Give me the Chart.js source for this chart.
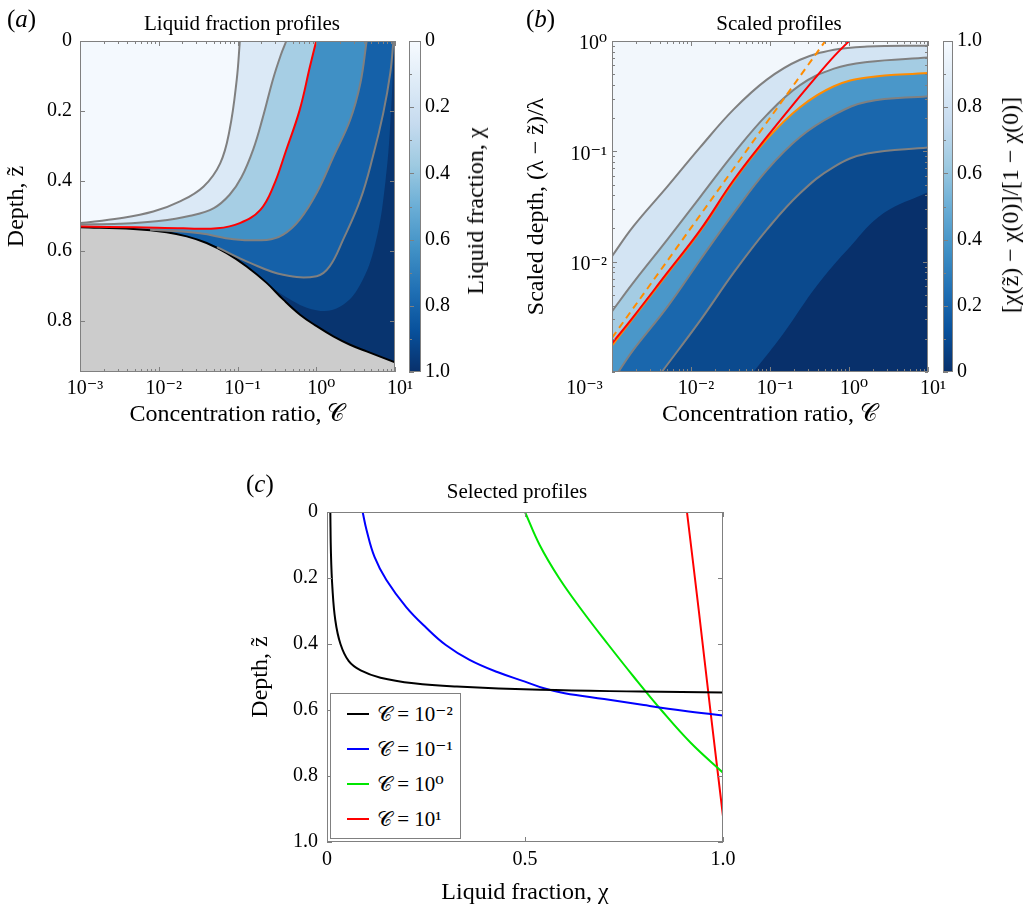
<!DOCTYPE html>
<html lang="en">
<head>
<meta charset="UTF-8">
<title>Liquid fraction profiles</title>
<script src="https://cdn.jsdelivr.net/npm/chart.js"></script>
<style>
  body { margin: 0; background: #fff; font-family: 'Liberation Serif', 'DejaVu Serif', serif; }
  #fig { position: relative; width: 1030px; height: 910px; overflow: hidden; }
  canvas { position: absolute; }
  .txt { position: absolute; white-space: nowrap; color: #000; line-height: 1; }
  .panel { font-size: 25px; }
  .ttl { font-size: 21px; transform: translate(-50%, -50%); }
  .cbt { font-size: 24px; transform: translate(-50%, -50%) rotate(-90deg); }
  #legend { position: absolute; left: 330px; top: 693px; width: 129px; height: 144px; border: 1px solid #808080; background: #fff; }
  .row { position: absolute; left: 0; height: 24px; font-size: 21px; line-height: 24px; white-space: nowrap; }
  .row span.ln { position: absolute; left: 16px; top: 11px; width: 22px; height: 2px; }
  .row span.tx { position: absolute; left: 46px; top: 0; }
</style>
</head>
<body>
<div id="fig">
  <canvas id="chartA" width="420" height="440" style="left:0;top:0"></canvas>
  <canvas id="cbA" width="95" height="440" style="left:405px;top:0"></canvas>
  <canvas id="chartB" width="450" height="440" style="left:500px;top:0"></canvas>
  <canvas id="cbB" width="91" height="440" style="left:939px;top:0"></canvas>
  <canvas id="chartC" width="520" height="440" style="left:240px;top:470px"></canvas>

  <div class="txt panel" style="left:7px;top:6px">(<i>a</i>)</div>
  <div class="txt panel" style="left:526px;top:6px">(<i>b</i>)</div>
  <div class="txt panel" style="left:246px;top:471px">(<i>c</i>)</div>
  <div class="txt ttl" style="left:242px;top:23px">Liquid fraction profiles</div>
  <div class="txt ttl" style="left:779px;top:23px">Scaled profiles</div>
  <div class="txt ttl" style="left:517px;top:491px">Selected profiles</div>
  <div class="txt cbt" style="left:475px;top:211px">Liquid fraction, χ</div>
  <div class="txt cbt" style="left:1010px;top:205px">[χ(z̃) − χ(0)]/[1 − χ(0)]</div>
  <div id="legend"></div>
</div>

<script>
// ---------- panel (a): contour lines, [log10 C, depth z] ----------
var aChi10 = [[-3, 0.521], [-2.49, 0.507], [-2.07, 0.488], [-1.73, 0.459], [-1.43, 0.416], [-1.22, 0.35], [-1.1, 0.254], [-1.01, 0.111], [-0.97, 0]];
var aChi25 = [[-3, 0.525], [-2.5, 0.523], [-2.0, 0.515], [-1.6, 0.5], [-1.3, 0.478], [-1.1, 0.44], [-0.95, 0.39], [-0.8, 0.31], [-0.68, 0.22], [-0.55, 0.11], [-0.45, 0.04], [-0.38, 0]];
var aChi50 = [[-3, 0.531], [-2.3, 0.533], [-1.69, 0.536], [-1.26, 0.536], [-0.97, 0.521], [-0.71, 0.483], [-0.545, 0.416], [-0.38, 0.311], [-0.21, 0.197], [-0.08, 0.073], [0, 0]];
var aChi75 = [[-2.11, 0.54], [-1.48, 0.55], [-1.05, 0.567], [-0.63, 0.569], [-0.42, 0.554], [-0.21, 0.511], [0.005, 0.435], [0.22, 0.33], [0.43, 0.226], [0.56, 0.121], [0.64, 0]];
var aChi90 = [[-1.26, 0.59], [-0.84, 0.635], [-0.42, 0.669], [0.005, 0.673], [0.17, 0.645], [0.34, 0.569], [0.56, 0.454], [0.72, 0.33], [0.85, 0.207], [0.94, 0.092], [0.98, 0]];
var aChi95 = [[-0.8, 0.662], [-0.4, 0.73], [0.0, 0.77], [0.3, 0.76], [0.55, 0.7], [0.75, 0.58], [0.88, 0.4], [0.95, 0.2], [0.99, 0]];
var aBoundary = [[-3, 0.533], [-2.323, 0.538], [-1.9, 0.547], [-1.645, 0.559], [-1.392, 0.578], [-1.138, 0.607], [-0.884, 0.645], [-0.63, 0.692], [-0.418, 0.74], [-0.206, 0.783], [0.005, 0.816], [0.217, 0.845], [0.429, 0.869], [0.64, 0.888], [1.0, 0.919]];

// ---------- panel (b): [log10 C, log10 scaled depth] ----------
var bGray1 = [[-3, -1.95], [-2.73, -1.68], [-2.3, -1.32], [-1.88, -0.96], [-1.46, -0.62], [-1.04, -0.35], [-0.62, -0.17], [-0.19, -0.08], [0.23, -0.05], [1, -0.042]];
var bGray2 = [[-3, -2.45], [-2.73, -2.19], [-2.3, -1.8], [-1.88, -1.41], [-1.46, -1.02], [-1.04, -0.67], [-0.62, -0.4], [-0.19, -0.25], [0.23, -0.19], [1, -0.15]];
var bOrange = [[-3, -2.76], [-2.73, -2.51], [-2.3, -2.11], [-1.88, -1.72], [-1.46, -1.27], [-1.04, -0.89], [-0.62, -0.6], [-0.19, -0.41], [0.23, -0.33], [1, -0.29]];
var bGray3 = [[-2.92, -3], [-2.73, -2.8], [-2.3, -2.41], [-1.88, -1.98], [-1.46, -1.56], [-1.04, -1.17], [-0.62, -0.87], [-0.19, -0.67], [0.23, -0.55], [1, -0.5]];
var bGray4 = [[-2.37, -3], [-1.88, -2.53], [-1.46, -2.1], [-1.04, -1.71], [-0.62, -1.38], [-0.19, -1.14], [0.23, -1.02], [1, -0.966]];
var bDark = [[-1.21, -3], [-0.83, -2.65], [-0.41, -2.22], [0.02, -1.86], [0.44, -1.56], [1, -1.37]];
var bRed = [[-3, -2.74], [-2.73, -2.5], [-2.3, -2.1], [-1.88, -1.71], [-1.46, -1.26], [-1.04, -0.87], [-0.62, -0.5], [-0.41, -0.32], [-0.19, -0.14], [0, 0]];
var bDashed = [[-3, -2.69], [-0.3, 0]];

// ---------- panel (c): selected profiles, [chi, depth z] ----------
var profLabels = ['𝒞 = 10⁻²', '𝒞 = 10⁻¹', '𝒞 = 10⁰', '𝒞 = 10¹'];
var profColors = ['#000000', '#0000ff', '#00e600', '#ff0000'];
var profC1 = [[0.0084, 0], [0.010, 0.126], [0.0135, 0.227], [0.021, 0.328], [0.034, 0.4], [0.055, 0.452], [0.085, 0.48], [0.135, 0.502], [0.219, 0.519], [0.328, 0.529], [0.539, 0.539], [0.791, 0.544], [1, 0.547]];
var profC2 = [[0.09, 0], [0.1, 0.055], [0.12, 0.136], [0.15, 0.206], [0.2, 0.288], [0.25, 0.35], [0.3, 0.403], [0.36, 0.448], [0.43, 0.485], [0.5, 0.514], [0.55, 0.535], [0.6, 0.549], [0.7, 0.567], [0.8, 0.585], [0.9, 0.602], [1, 0.617]];
var profC3 = [[0.5, 0], [0.537, 0.1], [0.586, 0.2], [0.645, 0.3], [0.709, 0.4], [0.775, 0.5], [0.844, 0.6], [0.919, 0.7], [1, 0.79]];
var profC4 = [[0.909, 0], [0.939, 0.3], [0.968, 0.6], [1, 0.922]];

// ticks
var cTicks = [1e-3, 1e-2, 1e-1, 1, 10];
var cTickLabels = ['10⁻³', '10⁻²', '10⁻¹', '10⁰', '10¹'];
var sTicks = [1e-3, 1e-2, 1e-1, 1];
var sTickLabels = ['', '10⁻²', '10⁻¹', '10⁰'];
var zTicksA = [0, 0.2, 0.4, 0.6, 0.8];
var cbTicks = [0, 0.1, 0.2, 0.3, 0.4, 0.5, 0.6, 0.7, 0.8, 0.9, 1];
var chiTicks = [0, 0.5, 1];
var zTicksC = [0, 0.2, 0.4, 0.6, 0.8, 1];

// colours
var blues = ['#f7fbff', '#deebf7', '#c6dbef', '#9ecae1', '#6baed6', '#4292c6', '#2171b5', '#08519c', '#08306b'];
var aBands = ['#dbe9f6', '#a6cee4', '#4090c5', '#1561a9', '#0a4a8e', '#08346f'];
var bBands = ['#d3e4f3', '#a4cce3', '#4a97c9', '#1a67ad', '#0b4a8e', '#08306b'];

var serif = "'Liberation Serif', 'DejaVu Serif', serif";
Chart.defaults.font.family = serif;
Chart.defaults.color = '#000';
Chart.defaults.animation = false;
Chart.defaults.plugins.legend.display = false;
Chart.defaults.plugins.tooltip.enabled = false;
Chart.defaults.elements.point.radius = 0;
Chart.defaults.elements.line.tension = 0.4;

// frame with inward ticks on all sides
Chart.register({
    id: 'frame',
    afterDatasetsDraw(chart, args, opts) {
        var ctx = chart.ctx, a = chart.chartArea;
        ctx.save();
        ctx.strokeStyle = '#808080';
        ctx.lineWidth = 1;
        ctx.beginPath();
        Object.values(chart.scales).forEach(function (s) {
            if (!s.options.display) return;
            s.ticks.forEach(function (t) {
                var p = Math.round(s.getPixelForValue(t.value)) + 0.5;
                var len = t.label === '' ? 3 : 5;
                if (s.isHorizontal()) {
                    ctx.moveTo(p, a.bottom); ctx.lineTo(p, a.bottom - len);
                    ctx.moveTo(p, a.top); ctx.lineTo(p, a.top + len);
                } else {
                    ctx.moveTo(a.left, p); ctx.lineTo(a.left + len, p);
                    if (!opts.oneSide) { ctx.moveTo(a.right, p); ctx.lineTo(a.right - len, p); }
                }
            });
        });
        ctx.stroke();
        ctx.strokeRect(Math.round(a.left) + 0.5, Math.round(a.top) + 0.5, Math.round(a.width) - 1, Math.round(a.height) - 1);
        ctx.restore();
    }
});
Chart.register({
    id: 'bg',
    beforeDatasetsDraw(chart, args, opts) {
        if (!opts.color) return;
        var a = chart.chartArea;
        chart.ctx.save();
        chart.ctx.fillStyle = opts.color;
        chart.ctx.fillRect(a.left, a.top, a.width, a.height);
        chart.ctx.restore();
    }
});

function P(arr) { return arr.map(function (p) { return { x: Math.pow(10, p[0]), y: p[1] }; }); }
function PP(arr) { return arr.map(function (p) { return { x: Math.pow(10, p[0]), y: Math.pow(10, p[1]) }; }); }
function XY(arr) { return arr.map(function (p) { return { x: p[0], y: p[1] }; }); }
function fmt(v) { return v === 0 ? '0' : v.toFixed(1); }

// a contour band in (a): boundary before the line starts, the line, then along z = 0.
// the joints are doubled so the spline keeps a sharp corner there
function bandA(line) {
    var pre = aBoundary.filter(function (p) { return p[0] < line[0][0] - 1e-9; });
    var pts = pre.length ? pre.concat([line[0]], line) : line.slice();
    var last = line[line.length - 1];
    if (last[0] < 1) pts.push(last, [1, 0]);
    return P(pts);
}

function logAxis(majors, labels) {
    return {
        afterBuildTicks: function (s) {
            var t = [];
            majors.forEach(function (m, i) {
                t.push({ value: m });
                if (i < majors.length - 1) for (var k = 2; k < 10; k++) t.push({ value: m * k });
            });
            s.ticks = t;
        },
        ticks: {
            autoSkip: false, maxRotation: 0, minRotation: 0,
            font: { size: 20 },
            callback: function (v) {
                var j = majors.findIndex(function (m) { return Math.abs(v / m - 1) < 1e-6; });
                return j < 0 ? '' : labels[j];
            }
        }
    };
}
function fixedTicks(vals, fmtFn) {
    return {
        afterBuildTicks: function (s) { s.ticks = vals.map(function (v) { return { value: v }; }); },
        ticks: { autoSkip: false, maxRotation: 0, font: { size: 20 }, callback: fmtFn }
    };
}
function axisTitle(text) {
    return { display: true, text: text, font: { size: 24 }, padding: 0 };
}
var noGrid = { display: false, drawTicks: false };

// ---------- (a) ----------
var aLevels = [aChi10, aChi25, aChi50, aChi75, aChi90, aChi95];
var aDatasets = aLevels.map(function (lv, i) {
    return { data: bandA(lv), fill: 'start', backgroundColor: aBands[i], borderWidth: 0, order: 30 - i };
});
aDatasets.push({ data: P(aBoundary), fill: 'start', backgroundColor: '#cccccc', borderColor: '#000', borderWidth: 2, order: 4 });
[[aChi10, '#808080'], [aChi25, '#808080'], [aChi75, '#808080'], [aChi90, '#808080'], [aChi50, '#ff0000']].forEach(function (l, i) {
    aDatasets.push({ data: P(l[0]), fill: false, borderColor: l[1], borderWidth: 2, order: i === 4 ? 1 : 2 });
});

var axA = logAxis(cTicks, cTickLabels);
axA.ticks.padding = 5;
axA.ticks.labelOffset = 5;
var ayA = fixedTicks(zTicksA, fmt);
ayA.ticks.padding = 8;

new Chart(document.getElementById('chartA'), {
    type: 'line',
    data: { datasets: aDatasets },
    options: {
        responsive: false,
        layout: { padding: { left: 2, top: 41, right: 25, bottom: 11 } },
        plugins: { bg: { color: '#f4f9fe' } },
        scales: {
            x: Object.assign({ type: 'logarithmic', min: 1e-3, max: 10, grid: noGrid, border: { display: false },
                title: axisTitle('Concentration ratio, 𝒞'), afterFit: function (s) { s.height = 57; } }, axA),
            y: Object.assign({ type: 'linear', min: 0, max: 0.947, reverse: true, grid: noGrid, border: { display: false },
                title: axisTitle('Depth, z̃'), afterFit: function (s) { s.width = 78; } }, ayA)
        }
    }
});

// ---------- colour bars ----------
function barGradient(c) {
    var a = c.chart.chartArea;
    if (!a) return null;
    var g = c.chart.ctx.createLinearGradient(0, a.top, 0, a.bottom);
    blues.forEach(function (col, i) { g.addColorStop(i / (blues.length - 1), col); });
    return g;
}
function colourBar(id, reverse, width) {
    var ay = fixedTicks(cbTicks, function (v) { return Math.round(v * 10) % 2 ? '' : fmt(v); });
    ay.ticks.padding = 4;
    new Chart(document.getElementById(id), {
        type: 'bar',
        data: { labels: [''], datasets: [{ data: [[0, 1]], backgroundColor: barGradient, borderWidth: 0, barPercentage: 1, categoryPercentage: 1 }] },
        options: {
            responsive: false,
            layout: { padding: { left: 4, top: 41, right: 0, bottom: 68 } },
            plugins: { frame: { oneSide: true } },
            scales: {
                x: { display: false },
                y: Object.assign({ position: 'right', min: 0, max: 1, reverse: reverse, grid: noGrid, border: { display: false },
                    afterFit: function (s) { s.width = width; } }, ay)
            }
        }
    });
}
colourBar('cbA', true, 79);
colourBar('cbB', false, 77);

// ---------- (b) ----------
var bLevels = [bGray1, bGray2, bOrange, bGray3, bGray4, bDark];
var bDatasets = bLevels.map(function (lv, i) {
    return { data: PP(lv), fill: 'start', backgroundColor: bBands[i], borderWidth: 0, order: 30 - i };
});
[bGray1, bGray2, bGray3, bGray4].forEach(function (l) {
    bDatasets.push({ data: PP(l), fill: false, borderColor: '#808080', borderWidth: 2, order: 5 });
});
bDatasets.push({ data: PP(bOrange), fill: false, borderColor: '#ff8c00', borderWidth: 2, order: 4 });
bDatasets.push({ data: PP(bDashed), fill: false, borderColor: '#ff8c00', borderWidth: 2, borderDash: [7, 5], order: 3 });
bDatasets.push({ data: PP(bRed), fill: false, borderColor: '#ff0000', borderWidth: 2, order: 2 });

var bxLabels = cTickLabels.slice();
bxLabels[0] = cTickLabels[0] + '             ';
var axB = logAxis(cTicks, bxLabels);
axB.ticks.padding = 5;
axB.ticks.labelOffset = 5;
var ayB = logAxis(sTicks, sTickLabels);
ayB.ticks.padding = 5;
ayB.ticks.labelOffset = 3;

new Chart(document.getElementById('chartB'), {
    type: 'line',
    data: { datasets: bDatasets },
    options: {
        responsive: false,
        layout: { padding: { left: 22, top: 41, right: 22, bottom: 11 } },
        plugins: { bg: { color: '#f2f7fc' } },
        scales: {
            x: Object.assign({ type: 'logarithmic', min: 1e-3, max: 10, grid: noGrid, border: { display: false },
                title: axisTitle('Concentration ratio, 𝒞'), afterFit: function (s) { s.height = 57; } }, axB),
            y: Object.assign({ type: 'logarithmic', min: 1e-3, max: 1, grid: noGrid, border: { display: false },
                title: axisTitle('Scaled depth, (λ − z̃)/λ'), afterFit: function (s) { s.width = 90; } }, ayB)
        }
    }
});

// ---------- (c) ----------
var profiles = [profC1, profC2, profC3, profC4];
var axC = fixedTicks(chiTicks, fmt);
axC.ticks.padding = 6;
var ayC = fixedTicks(zTicksC, fmt);
ayC.ticks.padding = 9;

new Chart(document.getElementById('chartC'), {
    type: 'line',
    data: {
        datasets: profiles.map(function (p, i) {
            return { label: profLabels[i], data: XY(p), fill: false, borderColor: profColors[i], borderWidth: 2 };
        })
    },
    options: {
        responsive: false,
        layout: { padding: { left: 6, top: 42, right: 37, bottom: 3 } },
        scales: {
            x: Object.assign({ type: 'linear', min: 0, max: 1, grid: noGrid, border: { display: false },
                title: axisTitle('Liquid fraction, χ'), afterFit: function (s) { s.height = 65; } }, axC),
            y: Object.assign({ type: 'linear', min: 0, max: 1, reverse: true, grid: noGrid, border: { display: false },
                title: axisTitle('Depth, z̃'), afterFit: function (s) { s.width = 81; } }, ayC)
        }
    }
});

// legend for (c)
var legend = document.getElementById('legend');
profLabels.forEach(function (lab, i) {
    var row = document.createElement('div');
    row.className = 'row';
    row.style.top = (8 + i * 35) + 'px';
    row.innerHTML = '<span class="ln" style="background:' + profColors[i] + '"></span><span class="tx">' + lab + '</span>';
    legend.appendChild(row);
});
</script>
</body>
</html>
